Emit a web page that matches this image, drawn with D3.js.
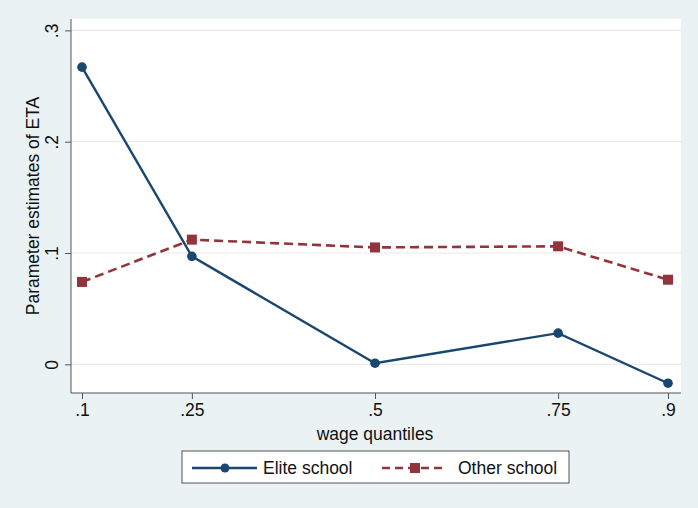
<!DOCTYPE html>
<html>
<head>
<meta charset="utf-8">
<script src="https://cdn.jsdelivr.net/npm/d3@7"></script>
<style>
  html, body { margin: 0; padding: 0; background: #eaf2f3; }
  svg { display: block; font-family: "Liberation Sans", Arial, sans-serif; }
</style>
</head>
<body>
<svg id="chart" width="698" height="508"></svg>
<script>
// Wage quantiles and estimated ETA coefficients by school type
const quantiles = [0.1, 0.25, 0.5, 0.75, 0.9];
const xTickLabels = [".1", ".25", ".5", ".75", ".9"];
const eliteSchool = [0.267, 0.097, 0.001, 0.028, -0.017];
const otherSchool = [0.074, 0.112, 0.105, 0.106, 0.076];
const yTicks = [0, 0.1, 0.2, 0.3];
const yTickLabels = ["0", ".1", ".2", ".3"];
const seriesNames = ["Elite school", "Other school"];

const navy = "#1a476f";
const maroon = "#90353b";
const FS = 17.5;

const svg = d3.select("#chart");
const W = 698, H = 508;

svg.append("rect").attr("width", W).attr("height", H).attr("fill", "#eaf2f3");

// plot region
const plot = { left: 71, right: 681, top: 19, bottom: 393 };

const x = d3.scaleLinear().domain([0.1, 0.9]).range([82, 668]);
const y = d3.scaleLinear().domain([0, 0.3]).range([364.3, 30.4]);

svg.append("rect")
  .attr("x", plot.left).attr("y", plot.top)
  .attr("width", plot.right - plot.left).attr("height", plot.bottom - plot.top)
  .attr("fill", "#ffffff");

// horizontal gridlines
svg.append("g").selectAll("line").data(yTicks).join("line")
  .attr("x1", plot.left).attr("x2", plot.right)
  .attr("y1", d => y(d)).attr("y2", d => y(d))
  .attr("stroke", "#eaeaea").attr("stroke-width", 1.2);

// y axis with vertical tick labels
const yAxis = d3.axisLeft(y).tickValues(yTicks)
  .tickFormat((d, i) => yTickLabels[i]).tickSize(6);
const gy = svg.append("g").attr("transform", `translate(${plot.left},0)`).call(yAxis);
gy.select(".domain").remove();
gy.selectAll(".tick line").attr("stroke", "#555");
gy.selectAll(".tick text")
  .attr("font-size", FS).attr("fill", "#111")
  .attr("x", null).attr("dy", null).attr("y", 0)
  .attr("text-anchor", "middle")
  .attr("transform", "translate(-13,0) rotate(-90)");
svg.append("line")
  .attr("x1", plot.left).attr("x2", plot.left)
  .attr("y1", plot.top).attr("y2", plot.bottom)
  .attr("stroke", "#555").attr("stroke-width", 1);

// x axis
const xAxis = d3.axisBottom(x).tickValues(quantiles)
  .tickFormat((d, i) => xTickLabels[i]).tickSize(6).tickPadding(5);
const gx = svg.append("g").attr("transform", `translate(0,${plot.bottom})`).call(xAxis);
gx.select(".domain").remove();
gx.selectAll(".tick line").attr("stroke", "#555");
gx.selectAll(".tick text").attr("font-size", FS).attr("fill", "#111");
svg.append("line")
  .attr("x1", plot.left).attr("x2", plot.right)
  .attr("y1", plot.bottom).attr("y2", plot.bottom)
  .attr("stroke", "#555").attr("stroke-width", 1);

// axis titles
svg.append("text")
  .attr("x", (x.range()[0] + x.range()[1]) / 2).attr("y", 440)
  .attr("text-anchor", "middle").attr("font-size", FS).attr("fill", "#111")
  .text("wage quantiles");
svg.append("text")
  .attr("transform", `translate(39,${(plot.top + plot.bottom) / 2}) rotate(-90)`)
  .attr("text-anchor", "middle").attr("font-size", FS).attr("fill", "#111")
  .text("Parameter estimates of ETA");

// series
const line = d3.line().x(d => x(d[0])).y(d => y(d[1]));
const elitePts = quantiles.map((q, i) => [q, eliteSchool[i]]);
const otherPts = quantiles.map((q, i) => [q, otherSchool[i]]);

svg.append("path").datum(otherPts).attr("d", line)
  .attr("fill", "none").attr("stroke", maroon).attr("stroke-width", 2.6)
  .attr("stroke-dasharray", "9,5");
svg.append("g").selectAll("rect").data(otherPts).join("rect")
  .attr("x", d => x(d[0]) - 5).attr("y", d => y(d[1]) - 5)
  .attr("width", 10).attr("height", 10).attr("fill", maroon);

svg.append("path").datum(elitePts).attr("d", line)
  .attr("fill", "none").attr("stroke", navy).attr("stroke-width", 2.4);
svg.append("g").selectAll("circle").data(elitePts).join("circle")
  .attr("cx", d => x(d[0])).attr("cy", d => y(d[1])).attr("r", 4.8)
  .attr("fill", navy);

// legend
const lg = svg.append("g");
lg.append("rect").attr("x", 182).attr("y", 451).attr("width", 387).attr("height", 32)
  .attr("fill", "#fff").attr("stroke", "#555").attr("stroke-width", 1);
const ly = 468;
// Elite
lg.append("line").attr("x1", 192).attr("x2", 257).attr("y1", ly).attr("y2", ly)
  .attr("stroke", navy).attr("stroke-width", 2.4);
lg.append("circle").attr("cx", 225).attr("cy", ly).attr("r", 4.5).attr("fill", navy);
lg.append("text").attr("x", 263).attr("y", ly + 6).attr("font-size", FS).attr("fill", "#111")
  .text(seriesNames[0]);
// Other
lg.append("line").attr("x1", 382).attr("x2", 447).attr("y1", ly).attr("y2", ly)
  .attr("stroke", maroon).attr("stroke-width", 2.6).attr("stroke-dasharray", "8,5");
lg.append("rect").attr("x", 410).attr("y", ly - 5).attr("width", 10).attr("height", 10).attr("fill", maroon);
lg.append("text").attr("x", 458).attr("y", ly + 6).attr("font-size", FS).attr("fill", "#111")
  .text(seriesNames[1]);
</script>
</body>
</html>
